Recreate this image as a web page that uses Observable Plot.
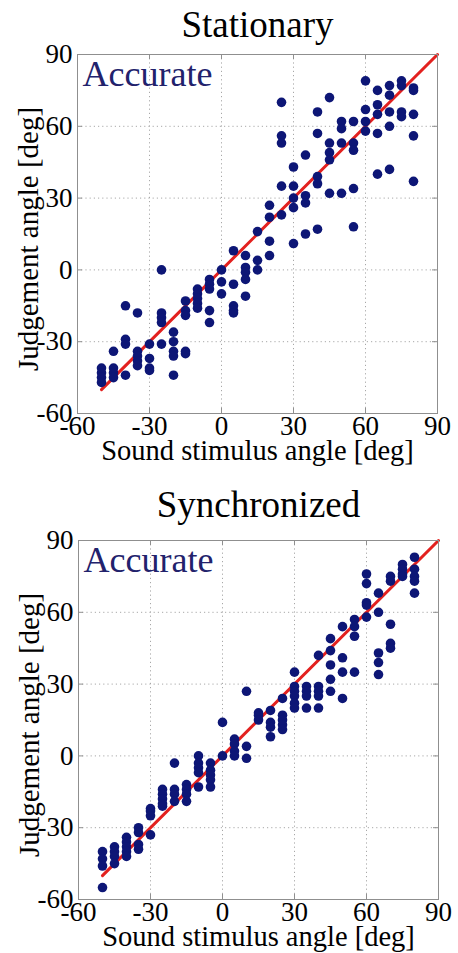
<!DOCTYPE html>
<html>
<head>
<meta charset="utf-8">
<script src="https://cdn.jsdelivr.net/npm/d3@7"></script>
<script src="https://cdn.jsdelivr.net/npm/@observablehq/plot@0.6"></script>
<style>
  html, body { margin: 0; padding: 0; background: #fff; }
  svg { display: block; }
</style>
</head>
<body>
<div id="chart"></div>
<script>
// ---- Data ----
const tickValues = [-60, -30, 0, 30, 60, 90];
const gridValues = [-30, 0, 30, 60];
const stimAngles = [-50, -45, -40, -35, -30, -25, -20, -15, -10, -5, 0, 5, 10, 15, 20, 25, 30, 35, 40, 45, 50, 55, 60, 65, 70, 75, 80];

const stationaryJudgements = [
  [-41, -43, -45, -47],
  [-34, -41, -43, -45],
  [-15, -29, -31, -44],
  [-18, -34, -36, -38, -40],
  [-31, -37, -41, -42],
  [0, -18, -20, -22, -31],
  [-26, -30, -34, -36, -44],
  [-13, -17, -19, -34, -35],
  [-8, -10, -12, -14, -16],
  [-4, -6, -8, -17, -22],
  [0, -5, -10],
  [8, -6, -15, -17, -18],
  [6, 1, -1, -4, -11],
  [16, 4, 0],
  [27, 22, 12, 6],
  [70, 56, 53, 35, 23],
  [43, 35, 30, 26, 11],
  [48, 31, 28, 15],
  [66, 57, 39, 36, 17],
  [72, 53, 49, 46, 32],
  [62, 59, 53, 32],
  [62, 53, 50, 34, 18],
  [79, 67, 62, 58],
  [75, 69, 65, 57, 40],
  [77, 73, 66, 60, 42],
  [79, 77, 66, 64],
  [76, 75, 65, 56, 37]
];

const synchronizedJudgements = [
  [-40, -43, -46, -55],
  [-38, -40, -42, -45],
  [-34, -36, -38, -40, -42],
  [-30, -32, -37, -39],
  [-22, -23, -25, -33],
  [-14, -16, -18, -20, -21],
  [-3, -14, -16, -19],
  [-12, -14, -16, -19],
  [0, -3, -5, -7, -13],
  [-3, -6, -8, -10, -13],
  [14, 0],
  [7, 5, 2, 0],
  [27, 4, -1],
  [18, 17, 15],
  [19, 14, 12, 8],
  [24, 17, 15, 13, 11],
  [35, 29, 27, 25, 22, 20],
  [29, 27, 25, 20],
  [42, 29, 27, 25, 20],
  [49, 44, 38, 32, 27],
  [54, 41, 35, 24],
  [57, 54, 50, 35],
  [76, 72, 64, 63, 58],
  [68, 60, 43, 39, 34],
  [75, 73, 55, 47, 45],
  [80, 78, 76, 75],
  [83, 78, 75, 73, 68]
];

const refLineX = [-50, 90];
const refLineY = [-50, 90];

const xLabel = "Sound stimulus angle [deg]";
const yLabel = "Judgement angle [deg]";
const accurateLabel = "Accurate";

// ---- Drawing ----
const SERIF = "Liberation Serif";

function panel({title, judgements, height, marginTop, marginBottom, marginLeft, marginRight, titleDy}) {
  const points = stimAngles.flatMap((s, i) => judgements[i].map(j => ({s, j})));
  const ref = refLineX.map((x, i) => ({x, y: refLineY[i]}));
  const plotH = height - marginTop - marginBottom;
  const plotW = 458 - marginLeft - marginRight;
  const frameColor = "#8f8f8f";
  const svg = Plot.plot({
    width: 458,
    height,
    marginTop, marginBottom, marginLeft, marginRight,
    style: {fontFamily: SERIF, background: "#fff", color: "#000"},
    x: {domain: [-60, 90]},
    y: {domain: [-60, 90]},
    marks: [
      Plot.gridX(gridValues, {stroke: "#a8a8a8", strokeOpacity: 1, strokeDasharray: "1.2,3", strokeWidth: 1}),
      Plot.gridY(gridValues, {stroke: "#a8a8a8", strokeOpacity: 1, strokeDasharray: "1.2,3", strokeWidth: 1}),
      Plot.line(ref, {x: "x", y: "y", stroke: "#e3211f", strokeWidth: 3}),
      Plot.dot(points, {x: "s", y: "j", r: 4.8, fill: "#0d1676", stroke: "none"}),
      Plot.frame({stroke: frameColor, strokeWidth: 1}),
      // inward ticks on all four sides
      Plot.tickX(tickValues, {x: d => d, insetTop: plotH - 5, stroke: frameColor}),
      Plot.tickX(tickValues, {x: d => d, insetBottom: plotH - 5, stroke: frameColor}),
      Plot.tickY(tickValues, {y: d => d, insetRight: plotW - 5, stroke: frameColor}),
      Plot.tickY(tickValues, {y: d => d, insetLeft: plotW - 5, stroke: frameColor}),
      Plot.axisX(tickValues, {tickSize: 0, tickPadding: 2, fontSize: 27, fontFamily: SERIF, label: null, tickFormat: d => String(d)}),
      Plot.axisY(tickValues, {tickSize: 0, tickPadding: 5, fontSize: 27, fontFamily: SERIF, label: null, tickFormat: d => String(d)}),
      Plot.text([title], {text: d => d, frameAnchor: "top", textAnchor: "middle", lineAnchor: "bottom", dy: titleDy, fontSize: 37, fontFamily: SERIF, fill: "#000"}),
      Plot.text([accurateLabel], {text: d => d, frameAnchor: "top-left", textAnchor: "start", lineAnchor: "bottom", dx: 5, dy: 31, fontSize: 36, fontFamily: SERIF, fill: "#22226c"}),
      Plot.text([xLabel], {text: d => d, frameAnchor: "bottom", textAnchor: "middle", lineAnchor: "bottom", dy: 46, fontSize: 28.5, fontFamily: SERIF, fill: "#000"}),
      Plot.text([yLabel], {text: d => d, frameAnchor: "left", textAnchor: "middle", lineAnchor: "bottom", rotate: -90, dx: -40, dy: 5, fontSize: 29, fontFamily: SERIF, fill: "#000"})
    ]
  });
  d3.select(svg).selectAll("text").style("font-family", "'Liberation Serif', 'Times New Roman', serif");
  return svg;
}

const root = document.getElementById("chart");
root.appendChild(panel({
  title: "Stationary",
  judgements: stationaryJudgements,
  height: 476, marginTop: 54, marginBottom: 63, marginLeft: 77, marginRight: 21,
  titleDy: -18
}));
root.appendChild(panel({
  title: "Synchronized",
  judgements: synchronizedJudgements,
  height: 477, marginTop: 64, marginBottom: 54, marginLeft: 78, marginRight: 20,
  titleDy: -24
}));
</script>
</body>
</html>
